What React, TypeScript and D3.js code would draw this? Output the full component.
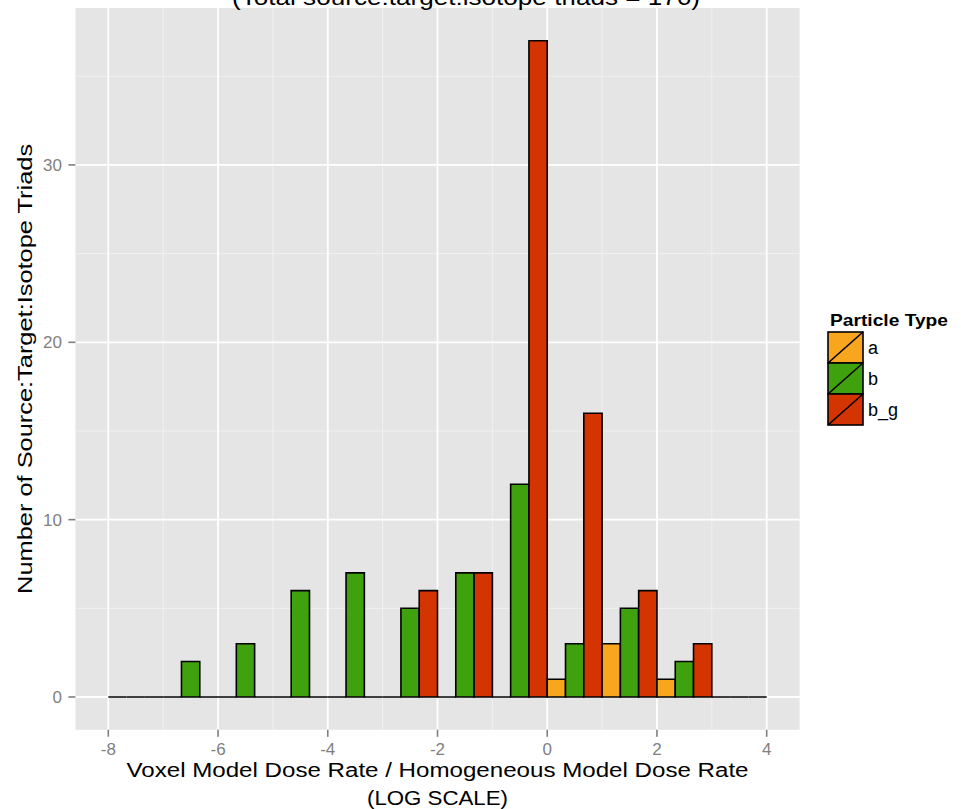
import React from "react";
import * as d3 from "d3";

const binStarts = [-8, -7, -6, -5, -4, -3, -2, -1, 0, 1, 2, 3];
const groups = ["a", "b", "b_g"];
const countsA = [0, 0, 0, 0, 0, 0, 0, 0, 1, 3, 1, 0];
const countsB = [0, 2, 3, 6, 7, 5, 7, 12, 3, 5, 2, 0];
const countsBG = [0, 0, 0, 0, 0, 6, 7, 37, 16, 6, 3, 0];
const colors = ["#F9A61F", "#40A10F", "#D43500"];
const xMajor = [-8, -6, -4, -2, 0, 2, 4];
const xMinor = [-7, -5, -3, -1, 1, 3];
const yMajor = [0, 10, 20, 30];
const yMinor = [5, 15, 25, 35];

const FONT = "'Liberation Sans', Arial, Helvetica, sans-serif";

export default function App() {
  const W = 961, H = 809;
  const left = 75.4, right = 799.6, top = 8, bottom = 729.8;
  const x = d3.scaleLinear().domain([-8.6, 4.6]).range([left, right]);
  const y = d3.scaleLinear().domain([-1.85, 38.85]).range([bottom, top]);
  const series = [countsA, countsB, countsBG];

  const bars: { d: string; fill: string; key: string }[] = [];
  binStarts.forEach((b, bi) => {
    groups.forEach((g, gi) => {
      const x0 = x(b + gi / 3), x1 = x(b + (gi + 1) / 3);
      const y0 = y(0), y1 = y(series[gi][bi]);
      const p = d3.path();
      p.moveTo(x0, y0);
      p.lineTo(x0, y1);
      p.lineTo(x1, y1);
      p.lineTo(x1, y0);
      p.closePath();
      bars.push({ d: p.toString(), fill: colors[gi], key: `${b}-${g}` });
    });
  });

  const tickColor = "#7F7F7F";
  const keyX = 828, keyW = 35, keyH = 31, keyY0 = 332;

  return (
    <svg width={W} height={H} style={{ position: "absolute", left: 0, top: 0, background: "#fff" }} fontFamily={FONT}>
      <rect x={left} y={top} width={right - left} height={bottom - top} fill="#E5E5E5" />
      {xMinor.map(v => (
        <line key={"xm" + v} x1={x(v)} x2={x(v)} y1={top} y2={bottom} stroke="#F2F2F2" strokeWidth={0.9} />
      ))}
      {yMinor.map(v => (
        <line key={"ym" + v} x1={left} x2={right} y1={y(v)} y2={y(v)} stroke="#F2F2F2" strokeWidth={0.9} />
      ))}
      {xMajor.map(v => (
        <line key={"xM" + v} x1={x(v)} x2={x(v)} y1={top} y2={bottom} stroke="#FFFFFF" strokeWidth={1.8} />
      ))}
      {yMajor.map(v => (
        <line key={"yM" + v} x1={left} x2={right} y1={y(v)} y2={y(v)} stroke="#FFFFFF" strokeWidth={1.8} />
      ))}
      {bars.map(b => (
        <path key={b.key} d={b.d} fill={b.fill} stroke="#000" strokeWidth={1.6} strokeLinejoin="miter" />
      ))}
      {xMajor.map(v => (
        <g key={"xt" + v}>
          <line x1={x(v)} x2={x(v)} y1={bottom} y2={bottom + 7} stroke={tickColor} strokeWidth={1.6} />
          <text x={x(v)} y={755} textAnchor="middle" fontSize={17} fill={tickColor}>{v}</text>
        </g>
      ))}
      {yMajor.map(v => (
        <g key={"yt" + v}>
          <line x1={left - 7} x2={left} y1={y(v)} y2={y(v)} stroke={tickColor} strokeWidth={1.6} />
          <text x={62} y={y(v)} dy="0.36em" textAnchor="end" fontSize={17} fill={tickColor}>{v}</text>
        </g>
      ))}
      <text x={466} y={5} textAnchor="middle" fontSize={22} fill="#000" textLength={468} lengthAdjust="spacingAndGlyphs">(Total source:target:isotope triads = 176)</text>
      <text x={(left + right) / 2} y={777} textAnchor="middle" fontSize={20} fill="#000" textLength={622} lengthAdjust="spacingAndGlyphs">Voxel Model Dose Rate / Homogeneous Model Dose Rate</text>
      <text x={(left + right) / 2} y={805} textAnchor="middle" fontSize={20} fill="#000" textLength={141} lengthAdjust="spacingAndGlyphs">(LOG SCALE)</text>
      <text transform={`translate(32,${(top + bottom) / 2}) rotate(-90)`} textAnchor="middle" fontSize={20} fill="#000" textLength={450} lengthAdjust="spacingAndGlyphs">Number of Source:Target:Isotope Triads</text>
      <text x={830} y={326} fontSize={17} fontWeight="bold" fill="#000" textLength={118} lengthAdjust="spacingAndGlyphs">Particle Type</text>
      {groups.map((g, i) => {
        const ky = keyY0 + i * keyH;
        return (
          <g key={"lg" + g}>
            <rect x={keyX} y={ky} width={keyW} height={keyH} fill={colors[i]} stroke="#000" strokeWidth={1.6} />
            <line x1={keyX} y1={ky + keyH} x2={keyX + keyW} y2={ky} stroke="#000" strokeWidth={1.6} />
            <text x={keyX + keyW + 5} y={ky + keyH / 2} dy="0.36em" fontSize={18} fill="#000">{g}</text>
          </g>
        );
      })}
    </svg>
  );
}
